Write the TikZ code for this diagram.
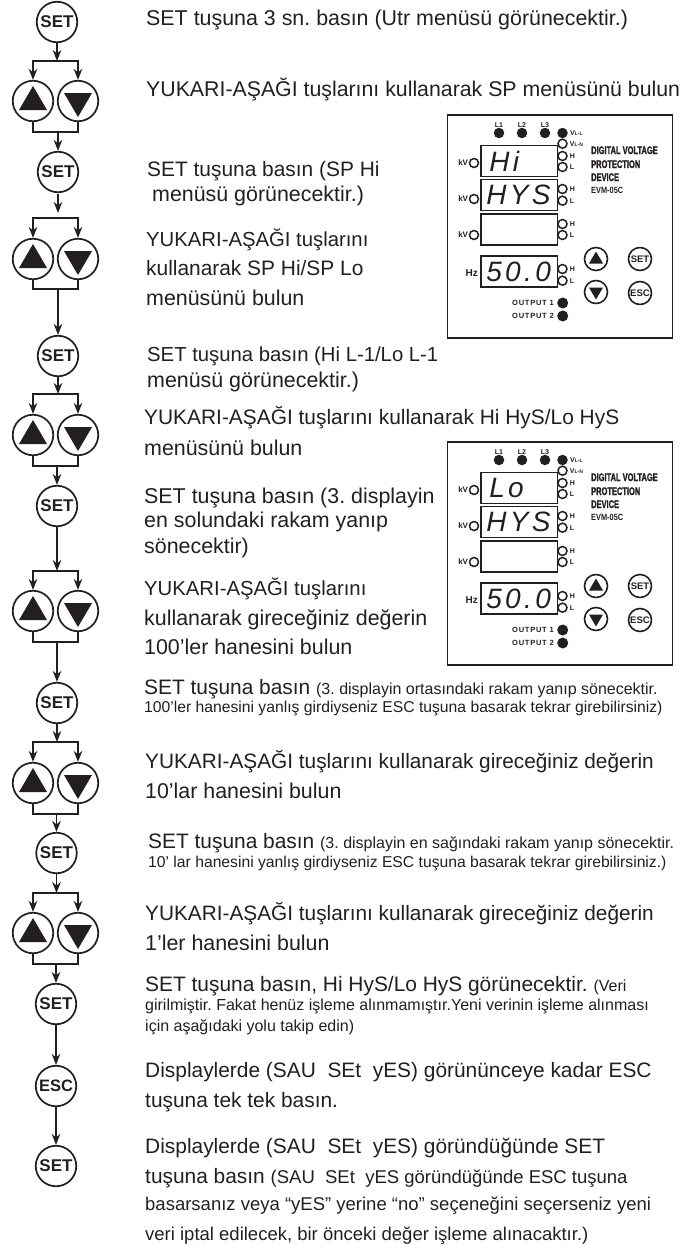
\documentclass[tikz,border=0pt]{standalone}
\usepackage{fontspec}
\usepackage{xcolor}
\usepackage{tikz}
\usetikzlibrary{arrows.meta,positioning}
\setmainfont{Liberation Sans}
\newfontfamily\dispfont[LetterSpace=12]{Liberation Sans}
\newfontfamily\widefont[LetterSpace=10]{Liberation Sans}
\newfontfamily\brandfont[FakeBold=2]{Liberation Sans}
\definecolor{ink}{HTML}{231F20}
\frenchspacing

\tikzset{
  key/.style={circle, draw=ink, line width=1.7pt, fill=white, minimum size=40.5pt, inner sep=0pt, text=ink, font=\fontsize{17}{17}\selectfont\bfseries},
  wire/.style={draw=ink, line width=1.8pt},
  flow/.style={wire, -{Stealth[length=11pt,width=8.5pt]}},
  txt/.style={anchor=base west, inner sep=0pt, text=ink, font=\fontsize{20.9}{24}\selectfont},
  txtb/.style={txt, font=\fontsize{21.4}{24}\selectfont},
  txtc/.style={txt, font=\fontsize{20.3}{24}\selectfont},
  ledon/.style={circle, fill=ink, minimum size=10.5pt, inner sep=0pt},
  ledoff/.style={circle, draw=ink, line width=1.5pt, fill=white, minimum size=9pt, inner sep=0pt},
  disp/.style={draw=ink, line width=1.6pt, minimum width=76.5pt, minimum height=31pt, inner sep=0pt, text width=66pt, align=left, text=ink, font=\fontsize{28}{28}\selectfont\dispfont\itshape},
  tag/.style={inner sep=0pt, text=ink, font=\fontsize{7}{7}\selectfont\bfseries},
  brand/.style={anchor=base west, inner sep=0pt, text=ink, font=\fontsize{11}{11}\selectfont\brandfont\bfseries},
  minikey/.style={circle, draw=ink, line width=1.6pt, fill=white, minimum size=23pt, inner sep=0pt, text=ink, font=\fontsize{9.5}{9.5}\selectfont\bfseries},
}
\newcommand{\smalltxt}[1]{{\fontsize{16}{18}\selectfont #1}}
\newcommand{\tighttxt}[1]{{\fontsize{15.7}{18}\selectfont #1}}
\newcommand{\vtag}[1]{V{\fontsize{5}{5}\selectfont #1}}

% up and down keys side by side with their top and bottom brackets
\newcommand{\keypair}[4]{
  \node[key] (up#1) at (33,#2) {};
  \node[key] (dn#1) at (78,#2) {};
  \fill[ink] (up#1.center) ++(-14,9) -- ++(28,0) -- ++(-14,-24) -- cycle;
  \fill[ink] (dn#1.center) ++(-14,-8) -- ++(28,0) -- ++(-14,24) -- cycle;
  \coordinate (top#1) at (57,#3);
  \coordinate (bot#1) at (57,#4);
  \draw[flow] (top#1) -| (up#1.north);
  \draw[flow] (top#1) -| (dn#1.north);
  \draw[wire] (up#1.south) |- (bot#1) -| (dn#1.south);
}

% front panel, drawn at a vertical shift
\newcommand{\meterpanel}[3]{
\begin{scope}[shift={(0,#2)}, name prefix=#1-]
  \node[draw=ink, line width=1.9pt, minimum width=225pt, minimum height=223pt, inner sep=0pt] (frame) at (560,226.5) {};
  \node[ledon] (l1) at (499,133) {};
  \node[ledon] (l2) at (522,133) {};
  \node[ledon] (l3) at (545,133) {};
  \node[ledon] (vll) at (562.5,133) {};
  \node[tag] at (499,125) {L1};
  \node[tag] at (522,125) {L2};
  \node[tag] at (545,125) {L3};
  \node[tag, right=2pt of vll] {\vtag{L-L}};
  \node[disp] (d1) at (519.3,161) {\hspace*{3pt}#3};
  \node[disp] (d2) at (519.3,195) {HYS};
  \node[disp] (d3) at (519.3,229.5) {};
  \node[disp] (d4) at (519.3,271.5) {50.0};
  \node[ledoff] (vln) at (562.5,143.7) {};
  \node[tag, right=2pt of vln] {\vtag{L-N}};
  \node[ledoff] (h1) at (562.5,156) {};
  \node[ledoff] (n1) at (562.5,167) {};
  \node[ledoff] (h2) at (562.5,189) {};
  \node[ledoff] (n2) at (562.5,200.7) {};
  \node[ledoff] (h3) at (562.5,224) {};
  \node[ledoff] (n3) at (562.5,235) {};
  \node[ledoff] (h4) at (562.5,269) {};
  \node[ledoff] (n4) at (562.5,280.7) {};
  \node[tag, right=2pt of h1] {H};
  \node[tag, right=2pt of n1] {L};
  \node[tag, right=2pt of h2] {H};
  \node[tag, right=2pt of n2] {L};
  \node[tag, right=2pt of h3] {H};
  \node[tag, right=2pt of n3] {L};
  \node[tag, right=2pt of h4] {H};
  \node[tag, right=2pt of n4] {L};
  \node[ledoff] (kv1) at (474,163) {};
  \node[ledoff] (kv2) at (474,199) {};
  \node[ledoff] (kv3) at (474,235) {};
  \node[tag, font=\fontsize{8}{8}\selectfont\bfseries, left=0.5pt of kv1] {kV};
  \node[tag, font=\fontsize{8}{8}\selectfont\bfseries, left=0.5pt of kv2] {kV};
  \node[tag, font=\fontsize{8}{8}\selectfont\bfseries, left=0.5pt of kv3] {kV};
  \node[tag, font=\fontsize{10}{10}\selectfont\bfseries, anchor=east] at (478,273) {Hz};
  \node[brand] at (591,154) {\scalebox{0.68}[1]{DIGITAL VOLTAGE}};
  \node[brand] at (591,168) {\scalebox{0.68}[1]{PROTECTION}};
  \node[brand] at (591,181) {\scalebox{0.68}[1]{DEVICE}};
  \node[brand, font=\fontsize{9}{9}\selectfont\bfseries] at (591,193) {\scalebox{0.82}[1]{EVM-05C}};
  \node[minikey] (kup) at (596,259) {};
  \node[minikey] (kdn) at (596,292) {};
  \fill[ink] (kup.center) ++(-7,4.5) -- ++(14,0) -- ++(-7,-12) -- cycle;
  \fill[ink] (kdn.center) ++(-7,-4.5) -- ++(14,0) -- ++(-7,12) -- cycle;
  \node[minikey] (kset) at (640,259) {SET};
  \node[minikey] (kesc) at (640,293) {ESC};
  \node[ledon, minimum size=11pt] (o1) at (562.7,303) {};
  \node[ledon, minimum size=11pt] (o2) at (562.7,316) {};
  \node[tag, font=\fontsize{7.5}{7.5}\selectfont\widefont\bfseries, left=3pt of o1] {OUTPUT 1};
  \node[tag, font=\fontsize{7.5}{7.5}\selectfont\widefont\bfseries, left=3pt of o2] {OUTPUT 2};
\end{scope}
}

\begin{document}
\begin{tikzpicture}[x=1pt, y=-1pt]
\useasboundingbox (0,0) rectangle (691,1245);

% left column of keys
\node[key] (set1) at (57,22) {SET};
\keypair{1}{101}{61}{132}
\node[key] (set2) at (58,172) {SET};
\keypair{2}{259}{218}{289}
\node[key] (set3) at (58,356) {SET};
\keypair{3}{435}{394}{466}
\node[key] (set4) at (57,506) {SET};
\keypair{4}{611}{571}{642}
\node[key] (set5) at (57,703) {SET};
\keypair{5}{783}{742}{814}
\node[key] (set6) at (56.5,853) {SET};
\keypair{6}{933}{893}{964}
\node[key] (set7) at (56,1004) {SET};
\node[key, font=\fontsize{16.5}{16.5}\selectfont\bfseries] (esc) at (56,1086) {ESC};
\node[key] (set8) at (56,1166) {SET};

\draw[flow] (set1) -- (set1 |- top1);
\draw[flow] (set2 |- bot1) -- (set2);
\coordinate (gaps) at (58,194);
\coordinate (gape) at (58,213);
\draw[flow] (gaps) -- (gape);
\draw[flow] (set3 |- bot2) -- (set3);
\draw[flow] (set3) -- (set3 |- top3);
\draw[flow] (set4 |- bot3) -- (set4);
\draw[flow] (set4) -- (set4 |- top4);
\draw[flow] (set5 |- bot4) -- (set5);
\draw[flow] (set5) -- (set5 |- top5);
\draw[flow] (set6 |- bot5) -- (set6);
\draw[flow] (set6) -- (set6 |- top6);
\draw[flow] (set7 |- bot6) -- (set7);
\draw[flow] (set7) -- (esc);
\draw[flow] (esc) -- (set8);

% instructions
\node[txtb] (s1) at (146,25) {SET tuşuna 3 sn. basın (Utr menüsü görünecektir.)};
\node[txt, font=\fontsize{21.3}{24}\selectfont] (s2) at (146,96) {YUKARI-AŞAĞI tuşlarını kullanarak SP menüsünü bulun};
\node[txt] (s3) at (147,176) {SET tuşuna basın (SP Hi};
\node[txtb] (s3b) at (152,201) {menüsü görünecektir.)};
\node[txtc] (s4) at (146,246) {YUKARI-AŞAĞI tuşlarını};
\node[txt] (s4b) at (146,275) {kullanarak SP Hi/SP Lo};
\node[txtb] (s4c) at (146,305) {menüsünü bulun};
\node[txtc] (s5) at (147,361) {SET tuşuna basın (Hi L-1/Lo L-1};
\node[txtb] (s5b) at (147,387) {menüsü görünecektir.)};
\node[txt] (s6) at (144,424) {YUKARI-AŞAĞI tuşlarını kullanarak Hi HyS/Lo HyS};
\node[txtb] (s6b) at (144,455) {menüsünü bulun};
\node[txtb] (s7) at (144,503) {SET tuşuna basın (3. displayin};
\node[txtb] (s7b) at (144,527) {en solundaki rakam yanıp};
\node[txtb] (s7c) at (144,553) {sönecektir)};
\node[txtc] (s8) at (144,595) {YUKARI-AŞAĞI tuşlarını};
\node[txtb] (s8b) at (144,625) {kullanarak gireceğiniz değerin};
\node[txtb] (s8c) at (144,654) {100’ler hanesini bulun};
\node[txt] (s9) at (144,694) {SET tuşuna basın \smalltxt{(3. displayin ortasındaki rakam yanıp sönecektir.}};
\node[txt] (s9b) at (144,712) {\tighttxt{100’ler hanesini yanlış girdiyseniz ESC tuşuna basarak tekrar girebilirsiniz)}};
\node[txt, font=\fontsize{20.8}{24}\selectfont] (s10) at (145,768) {YUKARI-AŞAĞI tuşlarını kullanarak gireceğiniz değerin};
\node[txtb] (s10b) at (145,798) {10’lar hanesini bulun};
\node[txt] (s11) at (148,848) {SET tuşuna basın \smalltxt{(3. displayin en sağındaki rakam yanıp sönecektir.}};
\node[txt] (s11b) at (148,867) {\tighttxt{10’ lar hanesini yanlış girdiyseniz ESC tuşuna basarak tekrar girebilirsiniz.)}};
\node[txt, font=\fontsize{20.8}{24}\selectfont] (s12) at (145,920) {YUKARI-AŞAĞI tuşlarını kullanarak gireceğiniz değerin};
\node[txtb] (s12b) at (145,950) {1’ler hanesini bulun};
\node[txt] (s13) at (145,991) {SET tuşuna basın, Hi HyS/Lo HyS görünecektir. \smalltxt{(Veri}};
\node[txt] (s13b) at (145,1010) {\smalltxt{girilmiştir. Fakat henüz işleme alınmamıştır.Yeni verinin işleme alınması}};
\node[txt] (s13c) at (145,1031) {\smalltxt{için aşağıdaki yolu takip edin)}};
\node[txt] (s14) at (145,1077) {Displaylerde (SAU\ \ SEt\ \ yES) görününceye kadar ESC};
\node[txt] (s14b) at (145,1107) {tuşuna tek tek basın.};
\node[txt] (s15) at (145,1153) {Displaylerde (SAU\ \ SEt\ \ yES) göründüğünde SET};
\node[txt] (s15b) at (145,1183) {tuşuna basın {\fontsize{18.5}{20}\selectfont (SAU\ \ SEt\ \ yES göründüğünde ESC tuşuna}};
\node[txt, font=\fontsize{18.5}{20}\selectfont] (s15c) at (145,1210) {basarsanız veya “yES” yerine “no” seçeneğini seçerseniz yeni};
\node[txt, font=\fontsize{18.5}{20}\selectfont] (s15d) at (145,1240) {veri iptal edilecek, bir önceki değer işleme alınacaktır.)};

% the two panels
\meterpanel{a}{0}{Hi}
\meterpanel{b}{327}{Lo}
\end{tikzpicture}
\end{document}
